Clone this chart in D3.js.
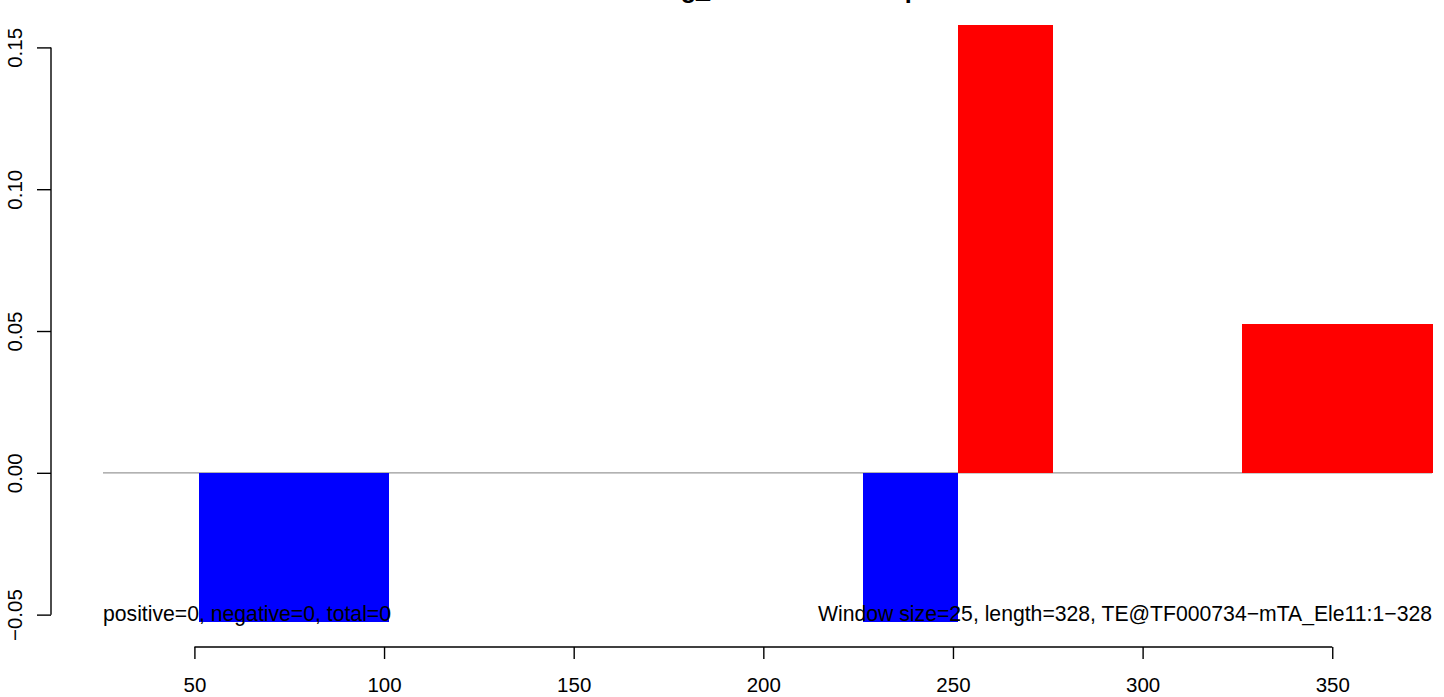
<!DOCTYPE html>
<html>
<head>
<meta charset="utf-8">
<script src="https://cdn.jsdelivr.net/npm/d3@7"></script>
<style>
  html, body { margin: 0; padding: 0; background: #fff; }
  svg { display: block; font-family: "Liberation Sans", Arial, Helvetica, sans-serif; }
</style>
</head>
<body>
<svg id="chart" width="1444" height="697"></svg>
<script>
// ---- data ----
const windowStarts = [26.3, 51.3, 76.3, 101.3, 126.3, 151.3, 176.3, 201.3, 226.3, 251.3, 276.3, 301.3, 326.3, 351.3];
const windowSize = 25;
const windowValues = [0, -0.0526, -0.0526, 0, 0, 0, 0, 0, -0.0526, 0.1579, 0, 0, 0.0526, 0.0526];
const xTicks = [50, 100, 150, 200, 250, 300, 350];
const yTicks = [-0.05, 0.00, 0.05, 0.10, 0.15];
const yTickLabels = ["\u22120.05", "0.00", "0.05", "0.10", "0.15"];
const xDomain = [25.9, 376.3];
const yDomain = [-0.0526, 0.1579];
const titleText = "Strong_motif TE loci map";
const leftNote = "positive=0, negative=0, total=0";
const rightNote = "Window size=25, length=328, TE@TF000734\u2212mTA_Ele11:1\u2212328";

// ---- layout ----
const plot = { left: 103, right: 1432, top: 25, bottom: 622 };
const FONT = "Liberation Sans, Arial, sans-serif";
const svg = d3.select("#chart");

const x = d3.scaleLinear().domain(xDomain).range([plot.left, plot.right]);
const y = d3.scaleLinear().domain(yDomain).range([plot.bottom, plot.top]);

// zero line
svg.append("line")
  .attr("x1", plot.left).attr("x2", plot.right)
  .attr("y1", y(0)).attr("y2", y(0))
  .attr("stroke", "#999").attr("stroke-width", 1.2);

// bars
const bars = windowStarts.map((s, i) => ({ s, v: windowValues[i] })).filter(d => d.v !== 0);
svg.append("g").attr("shape-rendering", "crispEdges")
  .selectAll("rect").data(bars).join("rect")
  .attr("x", d => x(d.s))
  .attr("width", d => x(d.s + windowSize) - x(d.s) + 0.5)
  .attr("y", d => Math.min(y(d.v), y(0)))
  .attr("height", d => Math.abs(y(d.v) - y(0)))
  .attr("fill", d => d.v > 0 ? "#ff0000" : "#0000ff");

// x axis
const xAxis = d3.axisBottom(x).tickValues(xTicks).tickFormat(d3.format("d"))
  .tickSizeOuter(0).tickSizeInner(12);
const gx = svg.append("g").attr("transform", "translate(0,647)").call(xAxis);
gx.select(".domain").attr("d", `M${x(xTicks[0])},0H${x(xTicks[xTicks.length - 1])}`)
  .attr("stroke", "#000").attr("stroke-width", 1.4);
gx.selectAll(".tick line").attr("stroke", "#000").attr("stroke-width", 1.4);
gx.selectAll(".tick text").attr("font-size", 20.5).attr("fill", "#000")
  .attr("font-family", FONT).attr("y", 45).attr("dy", null);

// y axis
const yAxis = d3.axisLeft(y).tickValues(yTicks).tickFormat((d, i) => yTickLabels[i])
  .tickSizeOuter(0).tickSizeInner(14);
const gy = svg.append("g").attr("transform", "translate(51,0)").call(yAxis);
gy.select(".domain").attr("d", `M0,${y(yTicks[0])}V${y(yTicks[yTicks.length - 1])}`)
  .attr("stroke", "#000").attr("stroke-width", 1.4);
gy.selectAll(".tick line").attr("stroke", "#000").attr("stroke-width", 1.4);
gy.selectAll(".tick text")
  .attr("font-size", 20.5).attr("fill", "#000")
  .attr("font-family", FONT)
  .attr("x", null).attr("dy", null)
  .attr("text-anchor", "middle")
  .attr("transform", "translate(-29,0) rotate(-90)")
  .attr("y", 0);

// notes
svg.append("text").attr("x", plot.left).attr("y", 621)
  .attr("font-size", 21.2).attr("fill", "#000").text(leftNote);
svg.append("text").attr("x", plot.right).attr("y", 621)
  .attr("text-anchor", "end").attr("font-size", 21.2).attr("fill", "#000").text(rightNote);

// title (mostly clipped off the top of the page, as in the reference)
svg.append("text").attr("x", (plot.left + plot.right) / 2).attr("y", -2)
  .attr("text-anchor", "middle").attr("font-size", 25.2).attr("font-weight", "bold")
  .attr("fill", "#000").text(titleText);
</script>
</body>
</html>
